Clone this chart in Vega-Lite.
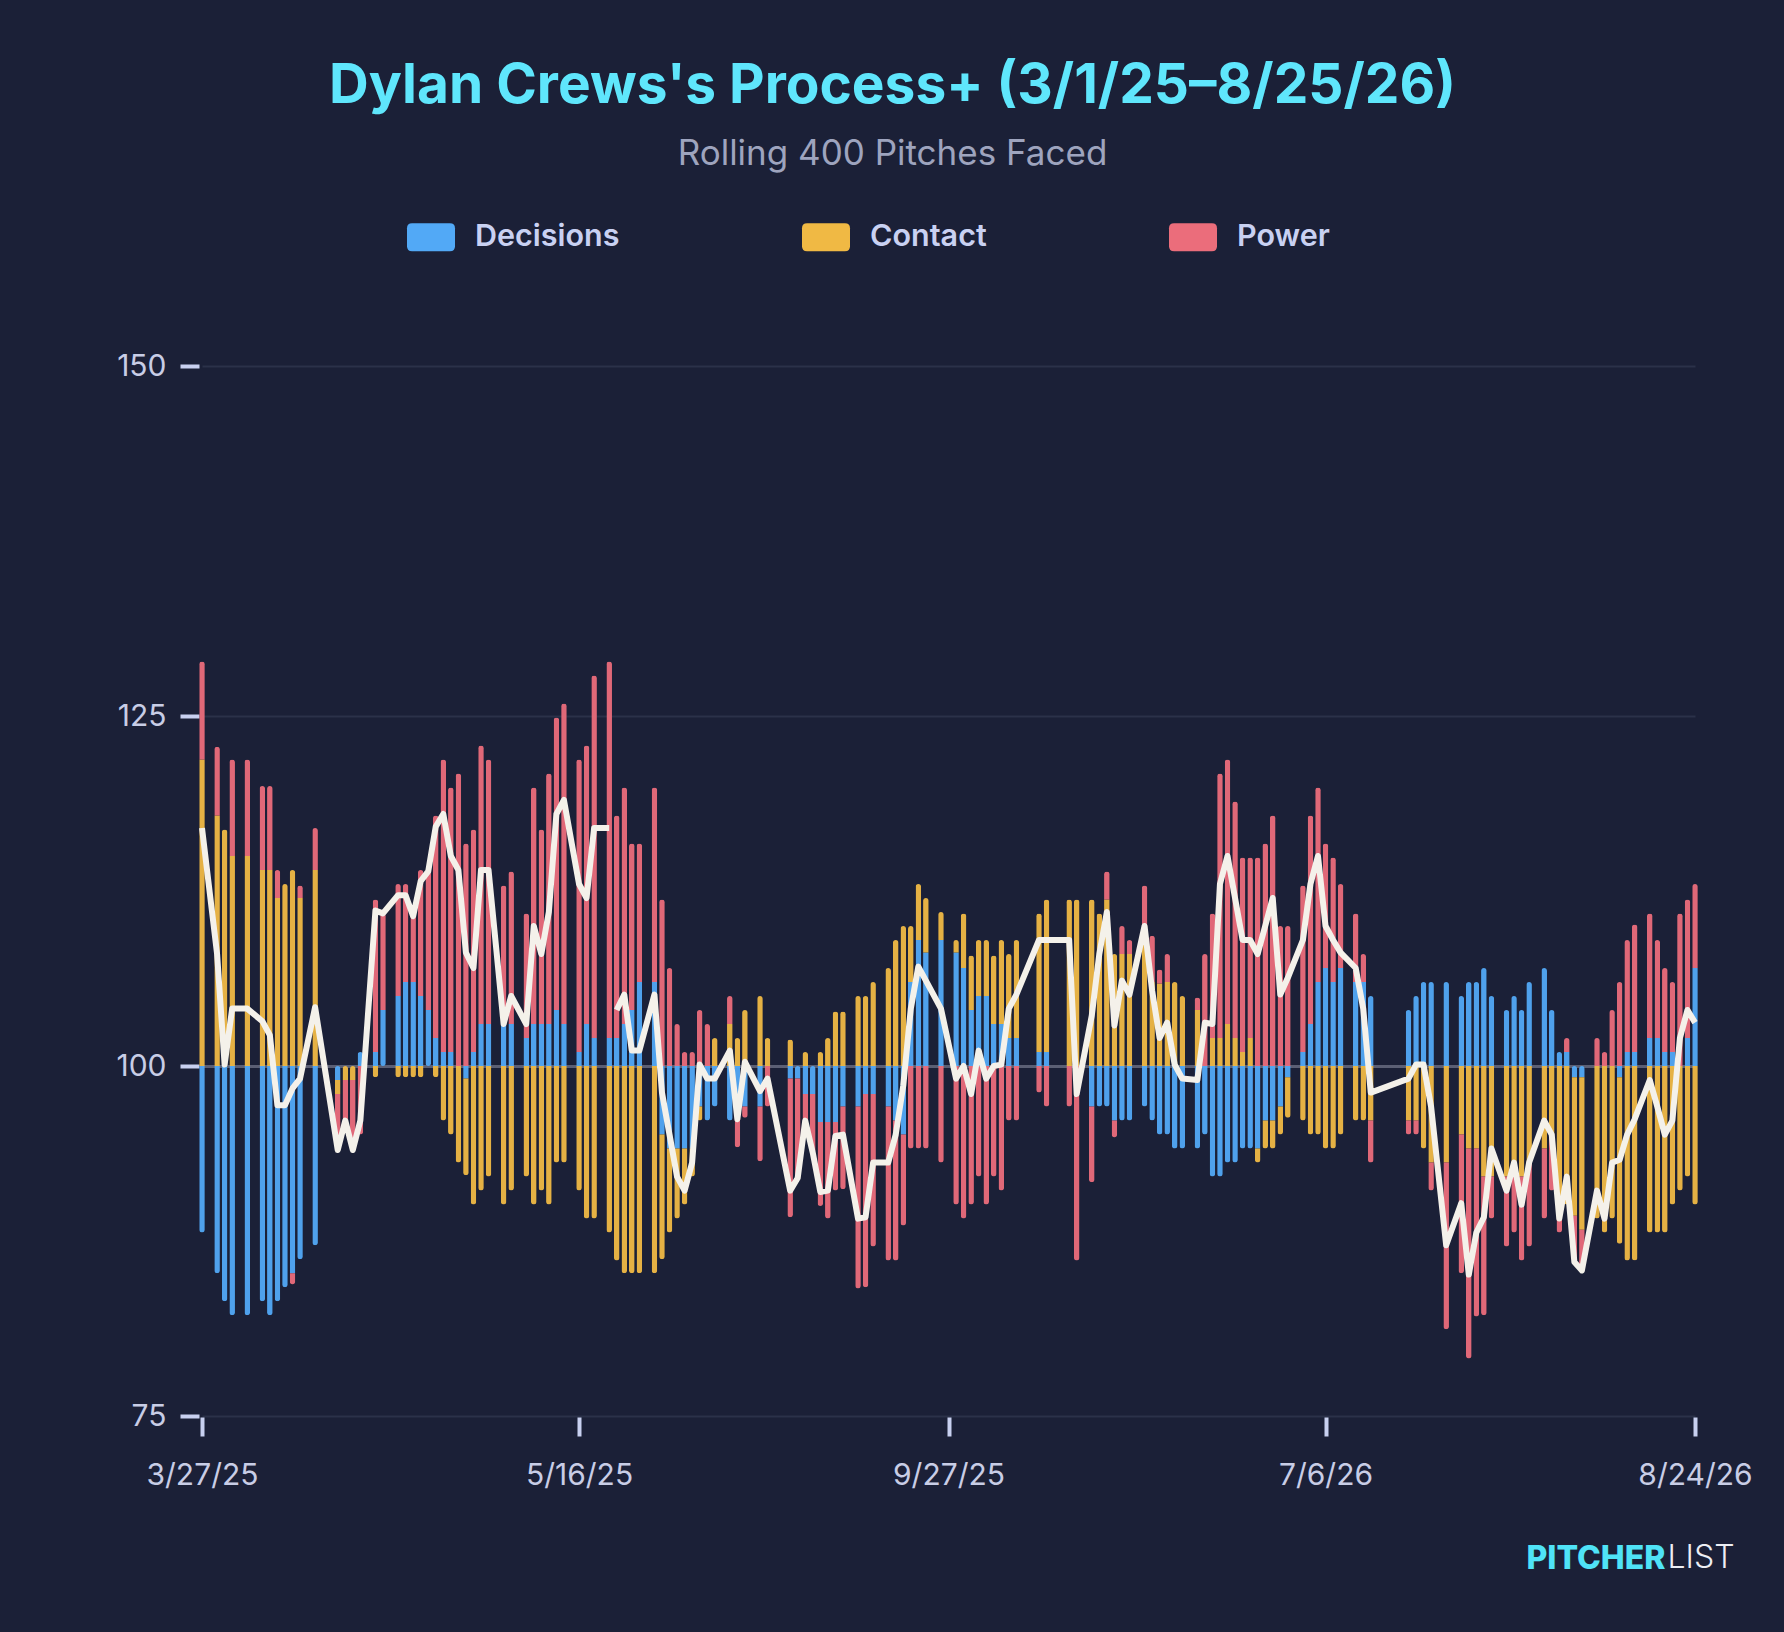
{
  "$schema": "https://vega.github.io/schema/vega-lite/v6.json",
  "width": 1493,
  "height": 1050,
  "autosize": {"type": "none"},
  "padding": {"left": 202, "top": 366, "right": 89, "bottom": 216},
  "background": "#1b2037",
  "config": {
    "view": {"stroke": null},
    "font": "Inter",
    "axis": {"labelFont": "Inter", "titleFont": "Inter"},
    "legend": {"labelFont": "Inter"}
  },
  "title": {
    "text": "Dylan Crews's Process+ (3/1/25–8/25/26)",
    "subtitle": "Rolling 400 Pitches Faced",
    "anchor": "middle",
    "dx": -56,
    "offset": 40,
    "font": "Inter",
    "fontSize": 55,
    "fontWeight": 700,
    "color": "#5fe6fc",
    "subtitleFont": "Inter",
    "subtitleFontSize": 35,
    "subtitleFontWeight": 400,
    "subtitleColor": "#9ea4be",
    "subtitlePadding": 22
  },
  "data": {
    "values": [
      {"i":0,"Decisions":-11.9,"Contact":21.9,"Power":7.0,"T":117.0,"s":1},
      {"i":2,"Decisions":-14.8,"Contact":17.9,"Power":4.9,"T":108.0,"s":1},
      {"i":3,"Decisions":-16.8,"Contact":16.9,"Power":0,"T":100.1,"s":1},
      {"i":4,"Decisions":-17.8,"Contact":15.0,"Power":6.9,"T":104.1,"s":1},
      {"i":6,"Decisions":-17.8,"Contact":15.0,"Power":6.9,"T":104.1,"s":1},
      {"i":8,"Decisions":-16.8,"Contact":14.0,"Power":6.0,"T":103.2,"s":1},
      {"i":9,"Decisions":-17.8,"Contact":14.0,"Power":6.0,"T":102.2,"s":1},
      {"i":10,"Decisions":-16.8,"Contact":12.0,"Power":2.0,"T":97.2,"s":1},
      {"i":11,"Decisions":-15.8,"Contact":13.0,"Power":0,"T":97.2,"s":1},
      {"i":12,"Decisions":-14.8,"Contact":14.0,"Power":-0.8,"T":98.4,"s":1},
      {"i":13,"Decisions":-13.8,"Contact":12.0,"Power":0.9,"T":99.1,"s":1},
      {"i":15,"Decisions":-12.8,"Contact":14.0,"Power":3.0,"T":104.2,"s":1},
      {"i":18,"Decisions":-1.0,"Contact":-1.0,"Power":-4.0,"T":94.0,"s":1},
      {"i":19,"Decisions":0,"Contact":-1.0,"Power":-2.9,"T":96.1,"s":1},
      {"i":20,"Decisions":0,"Contact":-1.0,"Power":-5.0,"T":94.0,"s":1},
      {"i":21,"Decisions":1.0,"Contact":0,"Power":-4.9,"T":96.1,"s":1},
      {"i":23,"Decisions":1.0,"Contact":-0.8,"Power":10.9,"T":111.1,"s":1},
      {"i":24,"Decisions":4.0,"Contact":0,"Power":6.9,"T":110.9,"s":1},
      {"i":26,"Decisions":5.0,"Contact":-0.8,"Power":8.0,"T":112.2,"s":1},
      {"i":27,"Decisions":6.0,"Contact":-0.8,"Power":7.0,"T":112.2,"s":1},
      {"i":28,"Decisions":6.0,"Contact":-0.8,"Power":5.5,"T":110.7,"s":1},
      {"i":29,"Decisions":5.0,"Contact":-0.8,"Power":9.0,"T":113.2,"s":1},
      {"i":30,"Decisions":4.0,"Contact":0,"Power":9.9,"T":113.9,"s":1},
      {"i":31,"Decisions":2.0,"Contact":-0.8,"Power":15.9,"T":117.1,"s":1},
      {"i":32,"Decisions":1.0,"Contact":-3.9,"Power":20.9,"T":118.0,"s":1},
      {"i":33,"Decisions":1.0,"Contact":-4.9,"Power":18.9,"T":115.0,"s":1},
      {"i":34,"Decisions":0,"Contact":-6.9,"Power":20.9,"T":114.0,"s":1},
      {"i":35,"Decisions":-0.9,"Contact":-6.9,"Power":15.9,"T":108.1,"s":1},
      {"i":36,"Decisions":1.0,"Contact":-9.9,"Power":15.9,"T":107.0,"s":1},
      {"i":37,"Decisions":3.0,"Contact":-8.9,"Power":19.9,"T":114.0,"s":1},
      {"i":38,"Decisions":3.0,"Contact":-7.9,"Power":18.9,"T":114.0,"s":1},
      {"i":40,"Decisions":3.0,"Contact":-9.9,"Power":9.9,"T":103.0,"s":1},
      {"i":41,"Decisions":3.0,"Contact":-8.9,"Power":10.9,"T":105.0,"s":1},
      {"i":43,"Decisions":2.0,"Contact":-7.9,"Power":8.9,"T":103.0,"s":1},
      {"i":44,"Decisions":3.0,"Contact":-9.9,"Power":16.9,"T":110.0,"s":1},
      {"i":45,"Decisions":3.0,"Contact":-8.9,"Power":13.9,"T":108.0,"s":1},
      {"i":46,"Decisions":3.0,"Contact":-9.9,"Power":17.9,"T":111.0,"s":1},
      {"i":47,"Decisions":4.0,"Contact":-6.9,"Power":20.9,"T":118.0,"s":1},
      {"i":48,"Decisions":3.0,"Contact":-6.9,"Power":22.9,"T":119.0,"s":1},
      {"i":50,"Decisions":1.0,"Contact":-8.9,"Power":20.9,"T":113.0,"s":1},
      {"i":51,"Decisions":3.0,"Contact":-10.9,"Power":19.9,"T":112.0,"s":1},
      {"i":52,"Decisions":2.0,"Contact":-10.9,"Power":25.9,"T":117.0,"s":1},
      {"i":54,"Decisions":2.0,"Contact":-11.9,"Power":26.9,"T":117.0,"s":1},
      {"i":55,"Decisions":2.0,"Contact":-13.9,"Power":15.9,"T":104.0,"s":2},
      {"i":56,"Decisions":3.0,"Contact":-14.8,"Power":16.9,"T":105.1,"s":2},
      {"i":57,"Decisions":4.0,"Contact":-14.8,"Power":11.9,"T":101.1,"s":2},
      {"i":58,"Decisions":6.0,"Contact":-14.8,"Power":9.9,"T":101.1,"s":2},
      {"i":60,"Decisions":6.0,"Contact":-14.8,"Power":13.9,"T":105.1,"s":2},
      {"i":61,"Decisions":-4.9,"Contact":-8.9,"Power":11.9,"T":98.1,"s":2},
      {"i":62,"Decisions":-5.9,"Contact":-6.0,"Power":7.0,"T":95.1,"s":2},
      {"i":63,"Decisions":-5.9,"Contact":-5.0,"Power":3.0,"T":92.1,"s":2},
      {"i":64,"Decisions":-5.9,"Contact":-4.0,"Power":1.0,"T":91.1,"s":2},
      {"i":65,"Decisions":-5.9,"Contact":-2.0,"Power":1.0,"T":93.1,"s":2},
      {"i":66,"Decisions":-2.9,"Contact":-1.0,"Power":4.0,"T":100.1,"s":2},
      {"i":67,"Decisions":-3.9,"Contact":0,"Power":3.0,"T":99.1,"s":2},
      {"i":68,"Decisions":-2.9,"Contact":2.0,"Power":0,"T":99.1,"s":2},
      {"i":70,"Decisions":-3.9,"Contact":3.0,"Power":2.0,"T":101.1,"s":2},
      {"i":71,"Decisions":-2.9,"Contact":2.0,"Power":-2.9,"T":96.2,"s":2},
      {"i":72,"Decisions":-2.9,"Contact":4.0,"Power":-0.8,"T":100.3,"s":2},
      {"i":74,"Decisions":-2.9,"Contact":5.0,"Power":-3.9,"T":98.2,"s":2},
      {"i":75,"Decisions":0,"Contact":2.0,"Power":-2.9,"T":99.1,"s":2},
      {"i":78,"Decisions":-0.9,"Contact":1.9,"Power":-9.9,"T":91.1,"s":2},
      {"i":79,"Decisions":-0.9,"Contact":0,"Power":-7.1,"T":92.0,"s":2},
      {"i":80,"Decisions":-2.0,"Contact":1.0,"Power":-2.9,"T":96.1,"s":2},
      {"i":81,"Decisions":-2.0,"Contact":0,"Power":-4.2,"T":93.8,"s":2},
      {"i":82,"Decisions":-4.0,"Contact":1.0,"Power":-6.0,"T":91.0,"s":2},
      {"i":83,"Decisions":-4.0,"Contact":2.0,"Power":-6.9,"T":91.1,"s":2},
      {"i":84,"Decisions":-4.0,"Contact":3.9,"Power":-4.9,"T":95.0,"s":2},
      {"i":85,"Decisions":-2.9,"Contact":3.9,"Power":-5.9,"T":95.1,"s":2},
      {"i":87,"Decisions":-2.9,"Contact":5.0,"Power":-13.0,"T":89.1,"s":2},
      {"i":88,"Decisions":-2.0,"Contact":5.0,"Power":-13.8,"T":89.2,"s":2},
      {"i":89,"Decisions":-2.0,"Contact":6.0,"Power":-10.9,"T":93.1,"s":2},
      {"i":91,"Decisions":-2.9,"Contact":7.0,"Power":-11.0,"T":93.1,"s":2},
      {"i":92,"Decisions":-3.9,"Contact":9.0,"Power":-10.0,"T":95.1,"s":2},
      {"i":93,"Decisions":-4.9,"Contact":10.0,"Power":-6.5,"T":98.6,"s":2},
      {"i":94,"Decisions":6.0,"Contact":4.0,"Power":-5.9,"T":104.1,"s":2},
      {"i":95,"Decisions":9.0,"Contact":4.0,"Power":-5.9,"T":107.1,"s":2},
      {"i":96,"Decisions":8.1,"Contact":3.9,"Power":-5.9,"T":106.1,"s":2},
      {"i":98,"Decisions":9.0,"Contact":2.0,"Power":-6.9,"T":104.1,"s":2},
      {"i":100,"Decisions":8.1,"Contact":0.9,"Power":-9.9,"T":99.1,"s":2},
      {"i":101,"Decisions":7.0,"Contact":3.9,"Power":-10.9,"T":100.0,"s":2},
      {"i":102,"Decisions":4.0,"Contact":3.9,"Power":-9.9,"T":98.0,"s":2},
      {"i":103,"Decisions":5.0,"Contact":4.0,"Power":-7.9,"T":101.1,"s":2},
      {"i":104,"Decisions":5.0,"Contact":4.0,"Power":-9.9,"T":99.1,"s":2},
      {"i":105,"Decisions":3.0,"Contact":4.9,"Power":-7.9,"T":100.0,"s":2},
      {"i":106,"Decisions":3.0,"Contact":6.0,"Power":-8.9,"T":100.1,"s":2},
      {"i":107,"Decisions":2.0,"Contact":6.0,"Power":-3.9,"T":104.1,"s":2},
      {"i":108,"Decisions":2.0,"Contact":7.0,"Power":-3.9,"T":105.1,"s":2},
      {"i":111,"Decisions":1.0,"Contact":9.9,"Power":-1.9,"T":109.0,"s":2},
      {"i":112,"Decisions":1.0,"Contact":10.9,"Power":-2.9,"T":109.0,"s":2},
      {"i":115,"Decisions":0,"Contact":11.9,"Power":-2.9,"T":109.0,"s":2},
      {"i":116,"Decisions":0,"Contact":11.9,"Power":-13.9,"T":98.0,"s":2},
      {"i":118,"Decisions":-2.9,"Contact":11.9,"Power":-5.4,"T":103.6,"s":2},
      {"i":119,"Decisions":-2.9,"Contact":10.9,"Power":0,"T":108.0,"s":2},
      {"i":120,"Decisions":-2.9,"Contact":11.9,"Power":2.0,"T":111.0,"s":2},
      {"i":121,"Decisions":-3.9,"Contact":8.0,"Power":-1.2,"T":102.9,"s":2},
      {"i":122,"Decisions":-3.9,"Contact":8.0,"Power":2.0,"T":106.1,"s":2},
      {"i":123,"Decisions":-3.9,"Contact":8.0,"Power":1.0,"T":105.1,"s":2},
      {"i":125,"Decisions":-2.9,"Contact":10.1,"Power":2.8,"T":110.0,"s":2},
      {"i":126,"Decisions":-3.9,"Contact":6.0,"Power":3.3,"T":105.4,"s":2},
      {"i":127,"Decisions":-4.9,"Contact":5.9,"Power":1.0,"T":102.0,"s":2},
      {"i":128,"Decisions":-4.9,"Contact":6.0,"Power":2.0,"T":103.1,"s":2},
      {"i":129,"Decisions":-5.9,"Contact":6.0,"Power":0,"T":100.1,"s":2},
      {"i":130,"Decisions":-5.9,"Contact":5.0,"Power":0,"T":99.1,"s":2},
      {"i":132,"Decisions":-5.9,"Contact":4.0,"Power":0.9,"T":99.0,"s":2},
      {"i":133,"Decisions":-4.9,"Contact":0,"Power":8.0,"T":103.1,"s":2},
      {"i":134,"Decisions":-7.9,"Contact":2.0,"Power":8.9,"T":103.0,"s":2},
      {"i":135,"Decisions":-7.9,"Contact":2.0,"Power":18.9,"T":113.0,"s":2},
      {"i":136,"Decisions":-6.9,"Contact":3.0,"Power":18.9,"T":115.0,"s":2},
      {"i":137,"Decisions":-6.9,"Contact":2.0,"Power":16.9,"T":112.0,"s":2},
      {"i":138,"Decisions":-5.9,"Contact":1.0,"Power":13.9,"T":109.0,"s":2},
      {"i":139,"Decisions":-5.9,"Contact":2.0,"Power":12.9,"T":109.0,"s":2},
      {"i":140,"Decisions":-5.9,"Contact":-1.0,"Power":14.9,"T":108.0,"s":2},
      {"i":141,"Decisions":-3.9,"Contact":-2.0,"Power":15.9,"T":110.0,"s":2},
      {"i":142,"Decisions":-3.9,"Contact":-2.0,"Power":17.9,"T":112.0,"s":2},
      {"i":143,"Decisions":-2.9,"Contact":-2.0,"Power":10.0,"T":105.1,"s":2},
      {"i":144,"Decisions":-0.8,"Contact":-2.9,"Power":10.0,"T":106.3,"s":2},
      {"i":146,"Decisions":1.0,"Contact":-3.9,"Power":11.9,"T":109.0,"s":2},
      {"i":147,"Decisions":3.0,"Contact":-4.9,"Power":14.9,"T":113.0,"s":2},
      {"i":148,"Decisions":6.0,"Contact":-4.9,"Power":13.9,"T":115.0,"s":2},
      {"i":149,"Decisions":7.0,"Contact":-5.9,"Power":8.9,"T":110.0,"s":2},
      {"i":150,"Decisions":6.0,"Contact":-5.9,"Power":8.9,"T":109.0,"s":2},
      {"i":151,"Decisions":7.0,"Contact":-4.9,"Power":6.0,"T":108.1,"s":2},
      {"i":153,"Decisions":6.0,"Contact":-3.9,"Power":4.9,"T":107.0,"s":2},
      {"i":154,"Decisions":6.0,"Contact":-3.9,"Power":2.0,"T":104.1,"s":2},
      {"i":155,"Decisions":5.0,"Contact":-3.9,"Power":-3.0,"T":98.1,"s":2},
      {"i":160,"Decisions":4.0,"Contact":-3.9,"Power":-1.0,"T":99.1,"s":2},
      {"i":161,"Decisions":5.0,"Contact":-3.9,"Power":-1.0,"T":100.1,"s":2},
      {"i":162,"Decisions":6.0,"Contact":-5.9,"Power":0,"T":100.1,"s":2},
      {"i":163,"Decisions":6.0,"Contact":-6.9,"Power":-2.0,"T":97.1,"s":2},
      {"i":165,"Decisions":6.0,"Contact":-6.9,"Power":-11.9,"T":87.2,"s":2},
      {"i":167,"Decisions":5.0,"Contact":-4.9,"Power":-9.9,"T":90.2,"s":2},
      {"i":168,"Decisions":6.0,"Contact":-5.9,"Power":-15.0,"T":85.1,"s":2},
      {"i":169,"Decisions":6.0,"Contact":-5.9,"Power":-12.0,"T":88.1,"s":2},
      {"i":170,"Decisions":7.0,"Contact":-7.9,"Power":-9.9,"T":89.2,"s":2},
      {"i":171,"Decisions":5.0,"Contact":-7.9,"Power":-3.0,"T":94.1,"s":2},
      {"i":173,"Decisions":4.0,"Contact":-7.9,"Power":-5.0,"T":91.1,"s":2},
      {"i":174,"Decisions":5.0,"Contact":-7.9,"Power":-4.0,"T":93.1,"s":2},
      {"i":175,"Decisions":4.0,"Contact":-7.9,"Power":-6.0,"T":90.1,"s":2},
      {"i":176,"Decisions":6.0,"Contact":-6.9,"Power":-6.0,"T":93.1,"s":2},
      {"i":178,"Decisions":7.0,"Contact":-5.9,"Power":-5.0,"T":96.1,"s":2},
      {"i":179,"Decisions":4.0,"Contact":-4.9,"Power":-4.0,"T":95.1,"s":2},
      {"i":180,"Decisions":1.0,"Contact":-10.9,"Power":-1.0,"T":89.1,"s":2},
      {"i":181,"Decisions":1.0,"Contact":-9.9,"Power":1.0,"T":92.1,"s":2},
      {"i":182,"Decisions":-0.8,"Contact":-9.9,"Power":-3.3,"T":86.0,"s":2},
      {"i":183,"Decisions":-0.8,"Contact":-10.9,"Power":-2.9,"T":85.4,"s":2},
      {"i":185,"Decisions":0,"Contact":-10.9,"Power":2.0,"T":91.1,"s":2},
      {"i":186,"Decisions":0,"Contact":-11.9,"Power":1.0,"T":89.1,"s":2},
      {"i":187,"Decisions":0,"Contact":-10.9,"Power":4.0,"T":93.1,"s":2},
      {"i":188,"Decisions":-0.8,"Contact":-11.9,"Power":6.0,"T":93.3,"s":2},
      {"i":189,"Decisions":1.0,"Contact":-13.9,"Power":8.0,"T":95.1,"s":2},
      {"i":190,"Decisions":1.0,"Contact":-13.9,"Power":9.1,"T":96.2,"s":2},
      {"i":192,"Decisions":2.0,"Contact":-11.9,"Power":8.9,"T":99.0,"s":2},
      {"i":193,"Decisions":2.0,"Contact":-11.9,"Power":7.0,"T":97.1,"s":2},
      {"i":194,"Decisions":1.0,"Contact":-11.9,"Power":6.0,"T":95.1,"s":2},
      {"i":195,"Decisions":1.0,"Contact":-9.9,"Power":5.0,"T":96.1,"s":2},
      {"i":196,"Decisions":0,"Contact":-8.9,"Power":10.9,"T":102.0,"s":2},
      {"i":197,"Decisions":2.0,"Contact":-7.9,"Power":9.9,"T":104.0,"s":2},
      {"i":198,"Decisions":7.0,"Contact":-9.9,"Power":6.0,"T":103.1,"s":2}
    ]
  },
  "layer": [
    {
      "transform": [
        {"fold": ["Decisions", "Contact", "Power"], "as": ["metric", "dev"]},
        {"filter": "datum.dev != 0"},
        {"lookup": "metric", "from": {"data": {"values": [{"metric": "Decisions", "o": 1}, {"metric": "Contact", "o": 2}, {"metric": "Power", "o": 3}]}, "key": "metric", "fields": ["o"]}}
      ],
      "mark": {"type": "bar", "width": 5.6, "cornerRadius": 2.8, "opacity": 0.95},
      "encoding": {
        "x": {
          "field": "i",
          "type": "quantitative",
          "scale": {"domain": [0, 198], "nice": false, "zero": false, "padding": 0},
          "axis": {
            "values": [0, 50, 99, 149, 198],
            "labelExpr": "datum.value == 0 ? '3/27/25' : datum.value == 50 ? '5/16/25' : datum.value == 99 ? '9/27/25' : datum.value == 149 ? '7/6/26' : '8/24/26'",
            "grid": false,
            "domain": false,
            "ticks": true,
            "tickColor": "#c8d0f0",
            "tickWidth": 4,
            "tickSize": 19,
            "offset": 1,
            "labelFontSize": 30,
            "labelColor": "#c8cde6",
            "labelPadding": 24,
            "labelFlush": false,
            "labelOverlap": false,
            "title": "PITCHER",
            "titleX": 1463,
            "titleY": 151,
            "titleAlign": "right",
            "titleBaseline": "alphabetic",
            "titleFontSize": 32,
            "titleFontWeight": 800,
            "titleColor": "#4fe3f7"
          }
        },
        "y": {
          "field": "dev",
          "type": "quantitative",
          "stack": "zero",
          "scale": {"domain": [-25, 50], "nice": false, "zero": false},
          "axis": {
            "orient": "right",
            "labels": false,
            "ticks": false,
            "domain": false,
            "grid": false,
            "title": "LIST",
            "titleAngle": 0,
            "titleX": -28,
            "titleY": 1201,
            "titleAlign": "left",
            "titleBaseline": "alphabetic",
            "titleFontSize": 32,
            "titleFontWeight": 300,
            "titleColor": "#eceef4"
          }
        },
        "color": {
          "field": "metric",
          "type": "nominal",
          "scale": {"domain": ["Decisions", "Contact", "Power"], "range": ["#52a9f6", "#f0b944", "#eb6d7b"]},
          "legend": {
            "orient": "none",
            "legendX": 205,
            "legendY": -153,
            "direction": "horizontal",
            "title": null,
            "symbolType": "M -0.79,-0.583 L 0.79,-0.583 Q 1,-0.583 1,-0.375 L 1,0.375 Q 1,0.583 0.79,0.583 L -0.79,0.583 Q -1,0.583 -1,0.375 L -1,-0.375 Q -1,-0.583 -0.79,-0.583 Z",
            "symbolSize": 2304,
            "symbolStrokeWidth": 0,
            "symbolOpacity": 1,
            "labelFontSize": 30.5,
            "labelFontWeight": 600,
            "labelColor": "#c9d1f2",
            "labelOffset": 20,
            "columnPadding": 182
          }
        },
        "order": {"field": "o", "type": "quantitative", "sort": "ascending"}
      }
    },
    {
      "mark": {"type": "line", "color": "#f4f1ea", "strokeWidth": 6, "strokeJoin": "round", "strokeCap": "butt"},
      "encoding": {
        "x": {"field": "i", "type": "quantitative"},
        "y": {
          "field": "T",
          "type": "quantitative",
          "scale": {"domain": [75, 150], "nice": false, "zero": false},
          "axis": {
            "orient": "left",
            "values": [75, 100, 125, 150],
            "grid": true,
            "gridColor": {"condition": {"test": "datum.value === 100", "value": "#5b5f74"}, "value": "#2b3149"},
            "gridWidth": {"condition": {"test": "datum.value === 100", "value": 3}, "value": 2},
            "domain": false,
            "tickColor": "#c8d0f0",
            "tickWidth": 4,
            "tickSize": 19,
            "offset": 3,
            "labelFontSize": 30,
            "labelColor": "#c8cde6",
            "labelPadding": 14,
            "title": null
          }
        },
        "detail": {"field": "s", "type": "nominal"}
      }
    }
  ],
  "resolve": {"scale": {"y": "independent"}, "axis": {"y": "independent"}}
}
